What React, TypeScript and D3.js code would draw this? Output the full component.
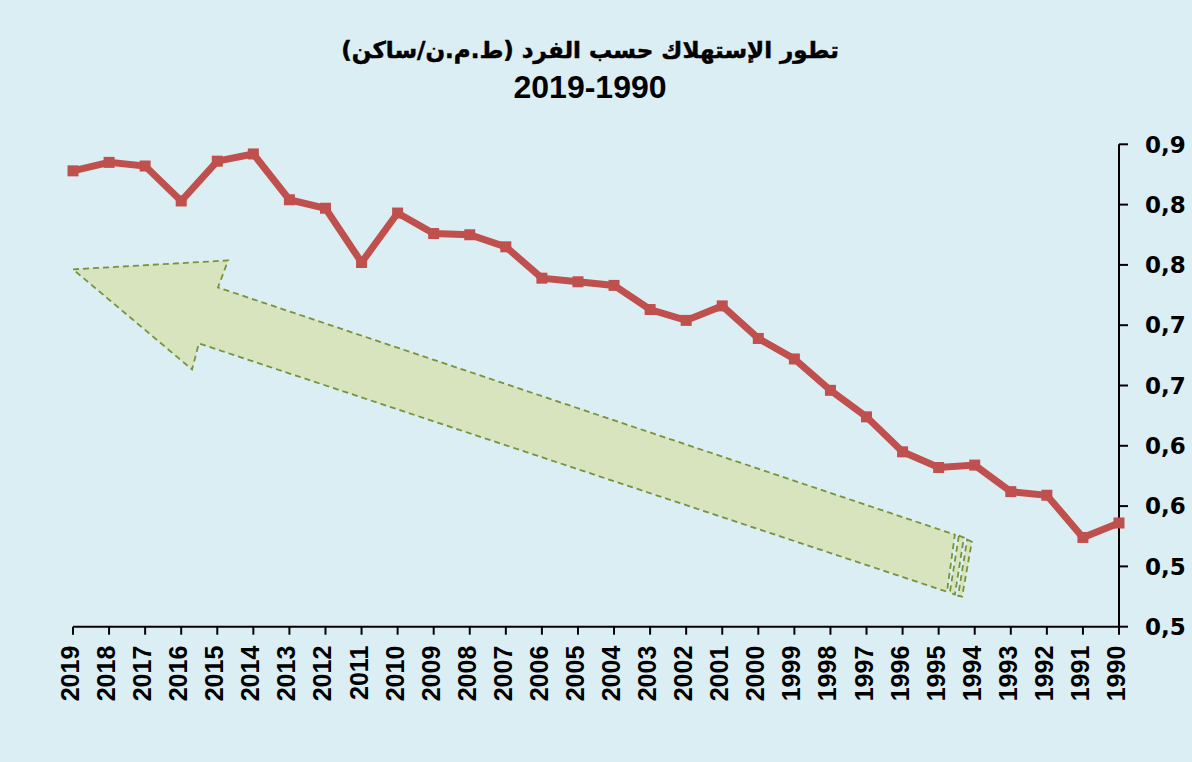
import * as d3 from "d3";

// categories (left to right as in the original, newest first)
const years = [
  "2019", "2018", "2017", "2016", "2015", "2014", "2013", "2012", "2011", "2010",
  "2009", "2008", "2007", "2006", "2005", "2004", "2003", "2002", "2001", "2000",
  "1999", "1998", "1997", "1996", "1995", "1994", "1993", "1992", "1991", "1990",
];

// consumption per inhabitant (toe / inhabitant)
const consumption = [
  0.878, 0.885, 0.882, 0.853, 0.886, 0.892, 0.854, 0.847, 0.802, 0.843,
  0.826, 0.825, 0.815, 0.789, 0.786, 0.783, 0.763, 0.754, 0.766, 0.739,
  0.722, 0.696, 0.674, 0.645, 0.632, 0.634, 0.612, 0.609, 0.574, 0.586,
];

const yTicks = [0.5, 0.55, 0.6, 0.65, 0.7, 0.75, 0.8, 0.85, 0.9];
const yTickLabels = ["0,5", "0,5", "0,6", "0,6", "0,7", "0,7", "0,8", "0,8", "0,9"];

const titleLine1 = "تطور الإستهلاك حسب الفرد (ط.م.ن/ساكن)";
const titleLine2 = "2019-1990";

// trend arrow outline, in (year index, value) units
const arrowShape: [number, number][] = [
  [0, 0.7963], [4.3, 0.8037], [4.02, 0.7813], [24.45, 0.5763],
  [24.23, 0.529], [3.49, 0.7349], [3.3, 0.7133],
];
const arrowStripes: [number, number][][] = [
  [[24.56, 0.5755], [24.7, 0.5739], [24.45, 0.5266], [24.31, 0.5282]],
  [[24.79, 0.5722], [24.92, 0.5705], [24.65, 0.5249], [24.54, 0.5257]],
];

const width = 1192;
const height = 762;
const left = 73;
const right = 1119;
const top = 144.3;
const bottom = 626.7;

function Chart() {
  const x = d3.scalePoint<string>().domain(years).range([left, right]);
  const xi = d3.scaleLinear().domain([0, years.length - 1]).range([left, right]);
  const y = d3.scaleLinear().domain([0.5, 0.9]).range([bottom, top]);

  const pts = years.map((yr, i) => ({ yr, v: consumption[i] }));
  const line = d3
    .line<{ yr: string; v: number }>()
    .x((d) => x(d.yr) ?? 0)
    .y((d) => y(d.v));

  const poly = d3
    .line<[number, number]>()
    .x((d) => xi(d[0]))
    .y((d) => y(d[1]))
    .curve(d3.curveLinearClosed);

  const green = "#d7e4bd";
  const greenStroke = "#77933c";

  return (
    <svg width={width} height={height} style={{ display: "block" }}>
      <rect x={0} y={0} width={width} height={height} fill="#dbeef4" />

      <text
        x={590}
        y={58}
        textAnchor="middle"
        fontFamily="'DejaVu Sans', sans-serif"
        fontWeight="bold"
        fontSize={23}
        direction="rtl"
        stroke="#000"
        strokeWidth={0.5}
        fill="#000"
      >
        {titleLine1}
      </text>
      <text
        x={590}
        y={98}
        textAnchor="middle"
        fontFamily="'Liberation Sans', Arial, sans-serif"
        fontWeight="bold"
        fontSize={32}
        fill="#000"
      >
        {titleLine2}
      </text>

      {/* trend arrow */}
      <g fill={green} stroke={greenStroke} strokeWidth={1.8} strokeDasharray="6,4">
        <path d={poly(arrowShape) ?? ""} />
        {arrowStripes.map((s, i) => (
          <path key={i} d={poly(s) ?? ""} />
        ))}
      </g>

      {/* x axis */}
      <g stroke="#000" strokeWidth={2}>
        <line x1={left} x2={right} y1={bottom} y2={bottom} />
        {years.map((yr) => (
          <line key={yr} x1={x(yr)} x2={x(yr)} y1={bottom} y2={bottom + 8} />
        ))}
      </g>
      <g
        fontFamily="'Liberation Sans', Arial, sans-serif"
        fontWeight="bold"
        fontSize={25}
        fill="#000"
      >
        {years.map((yr) => (
          <text
            key={yr}
            transform={`translate(${(x(yr) ?? 0) - 3},${bottom + 19}) rotate(-90)`}
            textAnchor="end"
            dy="0.36em"
          >
            {yr}
          </text>
        ))}
      </g>

      {/* y axis on the right */}
      <g stroke="#000" strokeWidth={2}>
        <line x1={right} x2={right} y1={top} y2={bottom} />
        {yTicks.map((t) => (
          <line key={t} x1={right} x2={right + 9} y1={y(t)} y2={y(t)} />
        ))}
      </g>
      <g
        fontFamily="'DejaVu Sans', sans-serif"
        fontWeight="bold"
        fontSize={23}
        fill="#000"
      >
        {yTicks.map((t, i) => (
          <text key={t} x={right + 26} y={y(t)} dy="0.36em">
            {yTickLabels[i]}
          </text>
        ))}
      </g>

      {/* series */}
      <path
        d={line(pts) ?? ""}
        fill="none"
        stroke="#c0504d"
        strokeWidth={7}
        strokeLinejoin="miter"
      />
      <g fill="#c0504d">
        {pts.map((d) => (
          <rect key={d.yr} x={(x(d.yr) ?? 0) - 5.5} y={y(d.v) - 5.5} width={11} height={11} />
        ))}
      </g>
    </svg>
  );
}

export default function App() {
  return (
    <div style={{ position: "fixed", left: 0, top: 0 }}>
      <Chart />
    </div>
  );
}
